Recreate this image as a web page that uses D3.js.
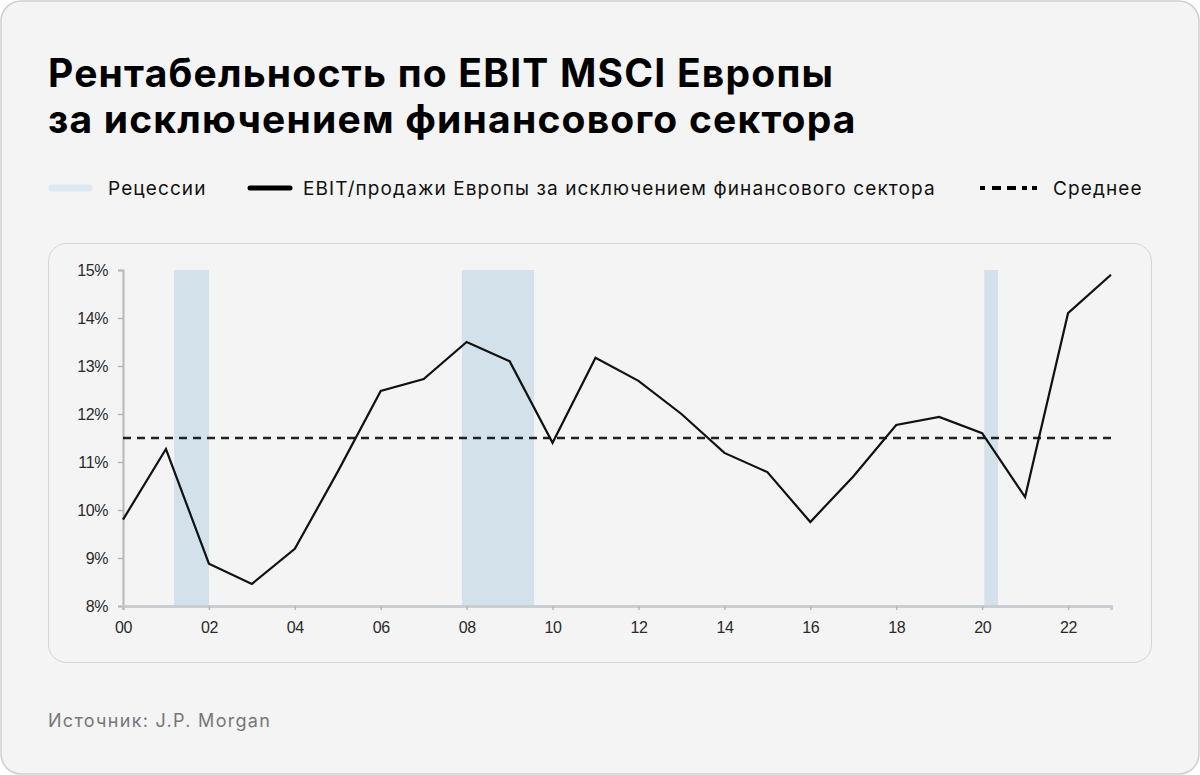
<!DOCTYPE html>
<html>
<head>
<meta charset="utf-8">
<script src="https://cdn.jsdelivr.net/npm/d3@7"></script>
<style>
  html, body { margin: 0; padding: 0; background: #ffffff; }
  svg { display: block; }
</style>
</head>
<body>
<svg id="chart" width="1200" height="775"></svg>
<script>
// ---- Data ----
const years = [2000, 2001, 2002, 2003, 2004, 2005, 2006, 2007, 2008, 2009, 2010, 2011,
               2012, 2013, 2014, 2015, 2016, 2017, 2018, 2019, 2020, 2021, 2022, 2023];
const ebitMargin = [9.8, 11.27, 8.88, 8.46, 9.19, 10.8, 12.48, 12.73, 13.5, 13.1, 11.4, 13.17,
                    12.69, 12.0, 11.19, 10.79, 9.75, 10.7, 11.77, 11.94, 11.6, 10.27, 14.1, 14.9];
const averageValue = 11.5;
const recessionStarts = [2001.19, 2007.89, 2020.05];
const recessionEnds = [2002.0, 2009.57, 2020.37];
const yTicks = [8, 9, 10, 11, 12, 13, 14, 15];
const xTicks = [2000, 2002, 2004, 2006, 2008, 2010, 2012, 2014, 2016, 2018, 2020, 2022];

const titleLines = ["Рентабельность по EBIT MSCI Европы", "за исключением финансового сектора"];
const legendLabels = ["Рецессии", "EBIT/продажи Европы за исключением финансового сектора", "Среднее"];
const sourceText = "Источник: J.P. Morgan";

// ---- Layout ----
const svg = d3.select("#chart");
const W = 1200, H = 775;
const uiFont = "Inter, Roboto, sans-serif";
const tickFont = "'Liberation Sans Narrow', 'Arial Narrow', 'Liberation Sans', sans-serif";

svg.append("rect").attr("x", 1).attr("y", 1).attr("width", W - 2).attr("height", H - 2)
  .attr("rx", 20).attr("fill", "#f4f4f4").attr("stroke", "#cfcfcf").attr("stroke-width", 1.5);

const title = svg.append("text").attr("font-family", uiFont)
  .attr("font-weight", 700).attr("font-size", 39).attr("fill", "#000")
  .attr("letter-spacing", 1.2);
title.selectAll("tspan").data(titleLines).join("tspan")
  .attr("x", 48).attr("y", (d, i) => 87 + i * 46).text(d => d);

// Legend
const lg = svg.append("g").attr("font-family", uiFont).attr("font-size", 19).attr("fill", "#111")
  .attr("letter-spacing", 1.1);
lg.append("line").attr("x1", 52).attr("x2", 89).attr("y1", 188).attr("y2", 188)
  .attr("stroke", "#dce8f2").attr("stroke-width", 7).attr("stroke-linecap", "round");
lg.append("text").attr("x", 108).attr("y", 195).text(legendLabels[0]);
lg.append("line").attr("x1", 250).attr("x2", 290).attr("y1", 188).attr("y2", 188)
  .attr("stroke", "#000").attr("stroke-width", 5).attr("stroke-linecap", "round");
lg.append("text").attr("x", 303).attr("y", 195).text(legendLabels[1]);
lg.append("line").attr("x1", 980).attr("x2", 1037).attr("y1", 188).attr("y2", 188)
  .attr("stroke", "#000").attr("stroke-width", 4).attr("stroke-dasharray", "5 7 9 6 9 6 5");
lg.append("text").attr("x", 1053).attr("y", 195).text(legendLabels[2]);

// Panel
svg.append("rect").attr("x", 48.5).attr("y", 243.5).attr("width", 1103).attr("height", 419)
  .attr("rx", 18).attr("fill", "#f4f4f4").attr("stroke", "#d4d4d4").attr("stroke-width", 1);

const x = d3.scaleLinear().domain([2000, 2023]).range([123, 1111]);
const y = d3.scaleLinear().domain([8, 15]).range([606, 270]);

// Recessions
svg.append("g").selectAll("rect").data(recessionStarts).join("rect")
  .attr("x", (d) => x(d)).attr("width", (d, i) => x(recessionEnds[i]) - x(d))
  .attr("y", y(15)).attr("height", y(8) - y(15))
  .attr("fill", "#d3e1ea");

// Y axis
const yAxis = svg.append("g").attr("transform", "translate(123,0)")
  .call(d3.axisLeft(y).tickValues(yTicks).tickFormat(d => d + "%").tickSize(5).tickPadding(10));
yAxis.select(".domain").attr("stroke", "#b8b8b8").attr("stroke-width", 2);
yAxis.selectAll(".tick line").attr("stroke", "#b8b8b8").attr("stroke-width", 1.5);
yAxis.selectAll("text").attr("font-family", tickFont)
  .attr("font-size", 16).attr("fill", "#2a2a2a").attr("letter-spacing", -0.4);

// X axis
const xAxis = svg.append("g").attr("transform", "translate(0,606)")
  .call(d3.axisBottom(x).tickValues(xTicks).tickFormat(d => String(d % 100).padStart(2, "0"))
    .tickSizeOuter(0).tickSize(4).tickPadding(12));
xAxis.select(".domain").attr("stroke", "#c9ced3").attr("stroke-width", 3);
xAxis.selectAll(".tick line").attr("stroke", "#b8b8b8").attr("stroke-width", 1.5);
xAxis.selectAll("text").attr("font-family", tickFont)
  .attr("font-size", 16).attr("fill", "#2a2a2a").attr("letter-spacing", -0.4);

// Average line
svg.append("line").attr("x1", x(2000)).attr("x2", x(2023))
  .attr("y1", y(averageValue)).attr("y2", y(averageValue))
  .attr("stroke", "#222").attr("stroke-width", 2.5).attr("stroke-dasharray", "8 6");

// EBIT line
const line = d3.line().x((d, i) => x(years[i])).y(d => y(d));
svg.append("path").datum(ebitMargin).attr("d", line)
  .attr("fill", "none").attr("stroke", "#111").attr("stroke-width", 2.2).attr("stroke-linejoin", "miter");

// Source
svg.append("text").attr("x", 48).attr("y", 727).attr("font-family", uiFont)
  .attr("font-size", 18).attr("fill", "#777").attr("letter-spacing", 1.3).text(sourceText);
</script>
</body>
</html>
